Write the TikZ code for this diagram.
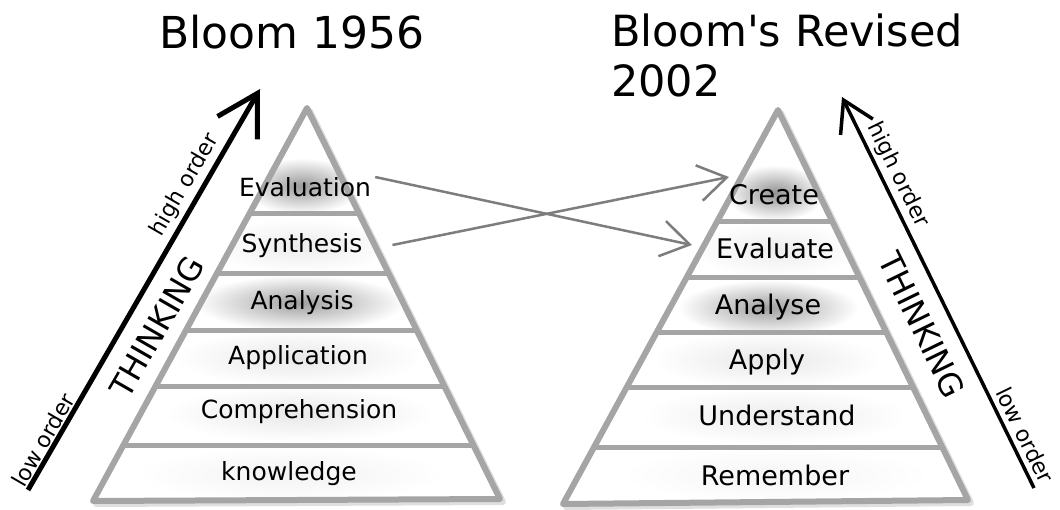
\documentclass[tikz,border=0pt]{standalone}
\usepackage{fontspec}
\setmainfont{DejaVu Sans}
\usetikzlibrary{arrows.meta}

\definecolor{pyrgray}{RGB}{165,165,165}
\definecolor{arrgray}{RGB}{125,125,125}

\begin{document}
\begin{tikzpicture}[x=1pt, y=-1pt,
    stage/.style={font=\fontsize{25}{28}\selectfont, inner sep=2pt},
    rstage/.style={font=\fontsize{27}{30}\selectfont, inner sep=2pt},
    title/.style={font=\fontsize{44}{50}\selectfont, inner sep=0pt},
    order/.style={font=\fontsize{22}{24}\selectfont, inner sep=1pt},
    thinking/.style={font=\fontsize{32}{34}\selectfont, inner sep=1pt},
    outline/.style={draw=pyrgray, line width=6pt, line join=round},
    shadowline/.style={draw=gray!25, line width=6pt, line join=round},
    band/.style={draw=pyrgray, line width=5pt},
    glow/.style={inner color=gray!#1, outer color=white},
    cross/.style={draw=arrgray, line width=2.5pt,
        -{Straight Barb[length=28pt, width=36pt]}},
    climb/.style={draw=black, line width=5pt,
        -{Straight Barb[length=40pt, width=46pt]}},
    descend/.style={draw=black, line width=3.5pt,
        -{Straight Barb[length=30pt, width=36pt]}}
]
\useasboundingbox (0,0) rectangle (1060,510);
\fill[white] (0,0) rectangle (1060,510);

% titles
\node[title, anchor=base west] (old) at (159,49) {Bloom 1956};
\node[title, font=\fontsize{43}{50}\selectfont, anchor=north west, align=left]
    (new) at (611,14) {Bloom\textquotesingle s Revised\\2002};

% left pyramid
\coordinate (LA) at (307,108);
\coordinate (LB) at (93,501);
\coordinate (LC) at (500,499);
\draw[shadowline] ([shift={(3,3)}]LA) -- ([shift={(3,3)}]LB) -- ([shift={(3,3)}]LC) -- cycle;
\fill[white] (LA) -- (LB) -- (LC) -- cycle;
\begin{scope}
    \clip (LA) -- (LB) -- (LC) -- cycle;
    \foreach \cx/\cy/\rx/\g in {302/186/60/80, 302/246/95/15, 300/303/105/75,
        298/358/125/18, 299/414/135/18, 290/474/155/10}
        \shade[glow=\g] (\cx,\cy) ellipse ({\rx*1pt} and 28pt);
    \foreach \y in {214,274,331,387,445}
        \draw[band] (0,\y) -- (600,\y);
\end{scope}
\draw[outline] (LA) -- (LB) -- (LC) -- cycle;

\node[stage] (evaluation) at (305,187) {Evaluation};
\node[stage] (synthesis) at (302,246) {Synthesis};
\node[stage] (analysis) at (302,303) {Analysis};
\node[stage] (application) at (298,358) {Application};
\node[stage] (comprehension) at (299,412) {Comprehension};
\node[stage] (knowledge) at (289,474) {knowledge};

% right pyramid
\coordinate (RA) at (778,110);
\coordinate (RB) at (563,504);
\coordinate (RC) at (968,500);
\draw[shadowline] ([shift={(3,3)}]RA) -- ([shift={(3,3)}]RB) -- ([shift={(3,3)}]RC) -- cycle;
\fill[white] (RA) -- (RB) -- (RC) -- cycle;
\begin{scope}
    \clip (RA) -- (RB) -- (RC) -- cycle;
    \foreach \cx/\cy/\rx/\g in {775/193/50/85, 775/250/85/14, 768/308/90/75,
        767/360/115/18, 775/416/135/15, 775/475/155/8}
        \shade[glow=\g] (\cx,\cy) ellipse ({\rx*1pt} and 28pt);
    \foreach \y in {222,278,333,388,447}
        \draw[band] (500,\y) -- (1000,\y);
\end{scope}
\draw[outline] (RA) -- (RB) -- (RC) -- cycle;

\node[rstage] (create) at (774,195) {Create};
\node[rstage] (evaluate) at (775,248) {Evaluate};
\node[rstage] (analyse) at (768,307) {Analyse};
\node[rstage] (apply) at (767,362) {Apply};
\node[rstage] (understand) at (777,415) {Understand};
\node[rstage] (remember) at (775,475) {Remember};

% old levels to new levels
\draw[cross] ([xshift=2pt, yshift=10pt]evaluation.east) -- ([xshift=-22pt, yshift=3pt]evaluate.west);
\draw[cross] ([xshift=28pt, yshift=1pt]synthesis.east) -- ([xshift=2pt, yshift=18pt]create.west);

% thinking arrows
\coordinate (lowL) at (28,490);
\coordinate (highL) at (260,89);
\draw[climb] (lowL) -- (highL);
\node[order, rotate=60] (lowl) at (43,440) {low order};
\node[order, rotate=60] (highl) at (185,185) {high order};
\node[thinking, rotate=60] (thinkl) at (157,327) {THINKING};

\coordinate (lowR) at (1034,488);
\coordinate (highR) at (842,97);
\draw[descend] (lowR) -- (highR);
\node[order, rotate=-64] (highr) at (898,175) {high order};
\node[thinking, rotate=-64] (thinkr) at (922,325) {THINKING};
\node[order, rotate=-64] (lowr) at (1025,435) {low order};
\end{tikzpicture}
\end{document}
